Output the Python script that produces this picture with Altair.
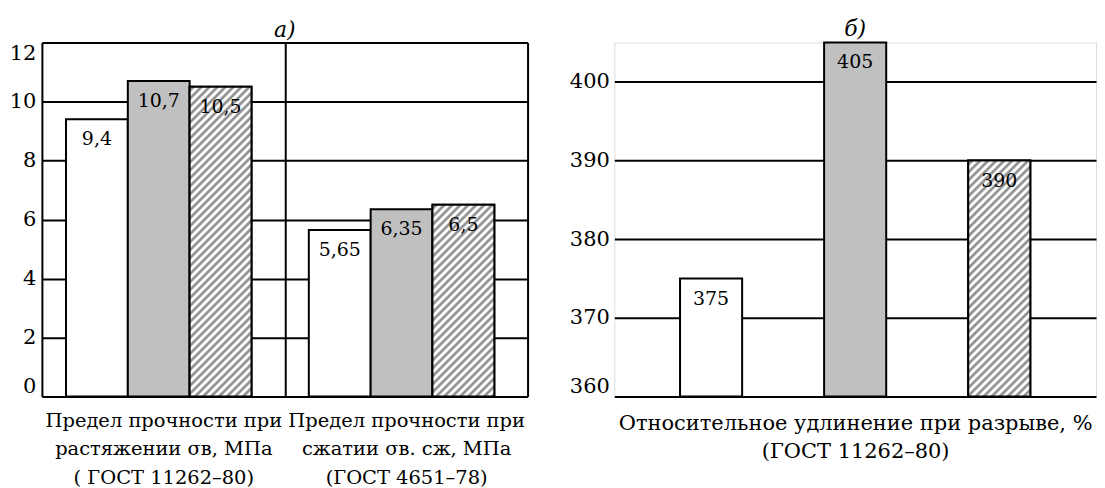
import altair as alt
import pandas as pd

# ---------------- data ----------------
series = ["Образец 1", "Образец 2", "Образец 3"]
categories_a = [
    "Предел прочности при\nрастяжении σв, МПа\n( ГОСТ 11262–80)",
    "Предел прочности при\nсжатии σв. сж, МПа\n(ГОСТ 4651–78)",
]
values_tension = [9.4, 10.7, 10.5]
values_compression = [5.65, 6.35, 6.5]
values_elongation = [375, 405, 390]
ticks_a = [0, 2, 4, 6, 8, 10, 12]
domain_a = [0, 12]
ticks_b = [360, 370, 380, 390, 400]
domain_b = [360, 405]
title_a = "а)"
title_b = "б)"
xtitle_b = ["Относительное удлинение при разрыве, %", "(ГОСТ 11262–80)"]

# ---------------- style ----------------
SERIF = "DejaVu Serif"
TICK_FS, XLAB_FS, XTITLE_FS, VAL_FS, TITLE_FS = 21, 19.5, 21, 19, 22
GREY = "#c0c0c0"
W_A, W_B, H = 487, 483, 355
BAR_W = 62.0


def fmt(v):
    return ("%g" % v).replace(".", ",")


def hatch(w, h, period=8.0, dark="#8c8c8c", light="#ffffff"):
    total = w + h
    d = w * w + h * h
    a = w * total / d
    b = h * total / d
    n = total / period
    pattern = [(0.0, light), (0.12, light), (0.42, dark), (0.58, dark), (0.88, light)]
    stops = []
    k = 0
    while k < n:
        for f, c in pattern:
            off = (k + f) / n
            if off <= 1.0:
                stops.append({"offset": round(off, 5), "color": c})
        k += 1
    return {"gradient": "linear", "x1": 0, "y1": 0, "x2": a, "y2": b, "stops": stops}


rows = []
for ci, (cat, vals) in enumerate(zip(categories_a, [values_tension, values_compression])):
    for si, (s, v) in enumerate(zip(series, vals)):
        rows.append({"category": cat, "cat_i": ci, "series": s, "ser_i": si,
                     "value": v, "label": fmt(v)})
df_a = pd.DataFrame(rows)
df_b = pd.DataFrame({"series": series, "ser_i": [0, 1, 2], "value": values_elongation,
                     "label": [fmt(v) for v in values_elongation]})

# ---------------- panel a ----------------
x_a = alt.X("category:N", sort=categories_a,
            scale=alt.Scale(paddingInner=0, paddingOuter=0),
            axis=alt.Axis(title=None, labelExpr="split(datum.label, '\\n')",
                          labelAngle=0, labelFont=SERIF, labelFontSize=XLAB_FS,
                          labelLineHeight=28.5, labelPadding=15, labelLimit=0,
                          labelOverlap=False, labelColor="black",
                          domain=False, ticks=False, grid=True, tickBand="extent",
                          gridColor="black", gridWidth=2, gridOpacity=1))
band_a = W_A / 2
po_a = (band_a / BAR_W - 3) / 2
xo_a = alt.XOffset("series:N", sort=series,
                   scale=alt.Scale(domain=series, paddingInner=0, paddingOuter=po_a, align=0.42))
y_a = alt.Y("value:Q", scale=alt.Scale(domain=domain_a, nice=False, zero=True),
            axis=alt.Axis(title=None, values=ticks_a, grid=True, gridColor="black",
                          gridWidth=2, gridOpacity=1, domain=False, ticks=False,
                          labelFont=SERIF, labelFontSize=TICK_FS, labelColor="black",
                          labelPadding=6, labelFlush=True))

base_a = alt.Chart(df_a)
bars_a = base_a.mark_bar(stroke="black", strokeWidth=2).encode(
    x=x_a, xOffset=xo_a, y=y_a,
    fill=alt.Fill("series:N", scale=alt.Scale(domain=series, range=["white", GREY, "white"]),
                  legend=None),
)
hatch_layers = []
for ci, vals in enumerate([values_tension, values_compression]):
    hpx = vals[2] / domain_a[1] * H
    hatch_layers.append(
        base_a.transform_filter(f"datum.cat_i == {ci} && datum.ser_i == 2")
        .mark_bar(fill=hatch(BAR_W, hpx), stroke="black", strokeWidth=2)
        .encode(x=x_a, xOffset=xo_a, y=y_a)
    )
text_a = base_a.mark_text(baseline="top", dy=11, font=SERIF, fontSize=VAL_FS, color="black").encode(
    x=x_a, xOffset=xo_a, y=y_a, text="label:N")

panel_a = alt.layer(bars_a, *hatch_layers, text_a).properties(
    width=W_A, height=H,
    title=alt.TitleParams(text=title_a, font=SERIF, fontSize=TITLE_FS, fontStyle="italic",
                          fontWeight="normal", color="black", offset=1, anchor="middle"),
)

# ---------------- panel b ----------------
po_b_inner = 1 - BAR_W / 143.85
x_b = alt.X("series:N", sort=series,
            scale=alt.Scale(domain=series, paddingInner=po_b_inner, paddingOuter=0.456),
            axis=alt.Axis(title=xtitle_b, labels=False, ticks=False, domain=False, grid=False,
                          titleFont=SERIF, titleFontSize=XTITLE_FS, titleFontWeight="normal",
                          titleColor="black", titleLineHeight=28.5, titlePadding=16))
y_b = alt.Y("value:Q", scale=alt.Scale(domain=domain_b, nice=False, zero=False),
            axis=alt.Axis(title=None, values=ticks_b, grid=True, gridColor="black",
                          gridWidth=2, gridOpacity=1, domain=False, ticks=False,
                          labelFont=SERIF, labelFontSize=TICK_FS, labelColor="black",
                          labelPadding=5, labelFlush=True))
base_b = alt.Chart(df_b)
bars_b = base_b.mark_bar(stroke="black", strokeWidth=2).encode(
    x=x_b, y=y_b, y2=alt.datum(domain_b[0]),
    fill=alt.Fill("series:N", scale=alt.Scale(domain=series, range=["white", GREY, "white"]),
                  legend=None),
)
hpx_b = (values_elongation[2] - domain_b[0]) / (domain_b[1] - domain_b[0]) * H
hatch_b = base_b.transform_filter("datum.ser_i == 2").mark_bar(
    fill=hatch(BAR_W, hpx_b), stroke="black", strokeWidth=2).encode(
    x=x_b, y=y_b, y2=alt.datum(domain_b[0]))
text_b = base_b.mark_text(baseline="top", dy=11, font=SERIF, fontSize=VAL_FS, color="black").encode(
    x=x_b, y=y_b, text="label:N")
panel_b = alt.layer(bars_b, hatch_b, text_b).properties(
    width=W_B, height=H,
    title=alt.TitleParams(text=title_b, font=SERIF, fontSize=TITLE_FS, fontStyle="italic",
                          fontWeight="normal", color="black", offset=1, anchor="middle"),
)

chart = alt.hconcat(panel_a, panel_b, spacing=87, bounds="flush").properties(
    padding={"top": 8, "left": 0, "right": 0, "bottom": 0}
).configure_view(stroke="black", strokeWidth=2).configure(background="white")

chart.save("out.html", embed_options={"renderer": "svg", "actions": False})
